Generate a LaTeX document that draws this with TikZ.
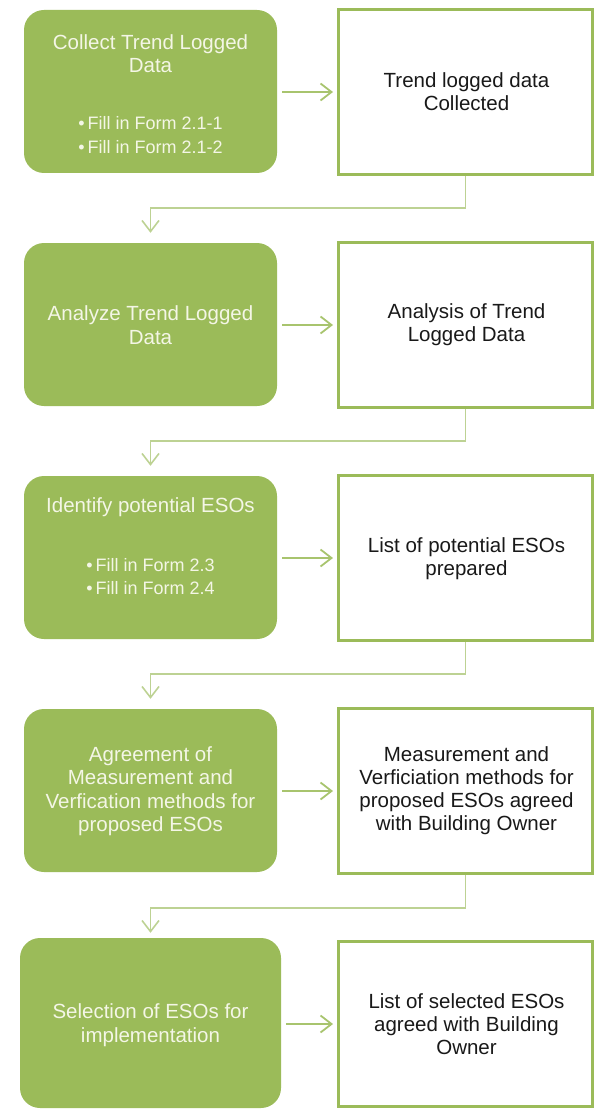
\documentclass[tikz,border=0pt]{standalone}
\usepackage{fontspec}
\setmainfont{Liberation Sans}
\usetikzlibrary{arrows.meta}
\definecolor{ogreen}{HTML}{9BBB59}
\definecolor{oarrow}{HTML}{A8C46E}
\definecolor{oelbow}{HTML}{BDD293}
\definecolor{otext}{HTML}{F4F6E6}
\tikzset{
 stepbox/.style={fill=ogreen, draw=none, rounded corners=20pt, minimum width=253pt, minimum height=163pt, inner sep=0pt},
 resultbox/.style={draw=ogreen, line width=3pt, fill=white, minimum width=254pt, minimum height=165pt, inner sep=0pt},
 steptext/.style={text=otext, align=center, inner sep=0pt, font=\fontsize{20.5}{23.5}\selectfont},
 bullettext/.style={text=otext, align=center, inner sep=0pt, font=\fontsize{18}{23.5}\selectfont},
 resulttext/.style={text=black!90, align=center, inner sep=0pt, font=\fontsize{20.5}{23}\selectfont},
 flow/.style={draw=oarrow, line width=1.8pt, -{Straight Barb[length=11pt,width=17pt]}, shorten <=5pt, shorten >=4pt},
 elbow/.style={draw=oelbow, line width=1.6pt, -{Straight Barb[length=11pt,width=17pt]}},
}
\begin{document}
\begin{tikzpicture}[x=1pt,y=-1pt]
\useasboundingbox (0,0) rectangle (594,1110);
% row 1
\node[stepbox] (g1) at (150.5,91.5) {};
\node[steptext] (g1t) at (150.5,53.5) {Collect Trend Logged\\Data};
\node[bullettext] (g1b) at (150.5,135) {•\,Fill in Form 2.1-1\\•\,Fill in Form 2.1-2};
\node[resultbox] (w1) at (465.5,92) {};
\node[resulttext] (w1t) at (466.5,91.5) {Trend logged data\\Collected};
% row 2
\node[stepbox] (g2) at (150.5,324.5) {};
\node[steptext] (g2t) at (150.5,325) {Analyze Trend Logged\\Data};
\node[resultbox] (w2) at (465.5,325) {};
\node[resulttext] (w2t) at (466.5,324.5) {Analysis of Trend\\Logged Data};
% row 3
\node[stepbox] (g3) at (150.5,557.5) {};
\node[steptext] (g3t) at (150.5,507) {Identify potential ESOs};
\node[bullettext] (g3b) at (150.5,576.5) {•\,Fill in Form 2.3\\•\,Fill in Form 2.4};
\node[resultbox] (w3) at (465.5,558) {};
\node[resulttext] (w3t) at (466.5,559) {List of potential ESOs\\prepared};
% row 4
\node[stepbox] (g4) at (150.5,790.5) {};
\node[steptext] (g4t) at (150.5,791) {Agreement of\\Measurement and\\Verfication methods for\\proposed ESOs};
\node[resultbox] (w4) at (465.5,791) {};
\node[resulttext] (w4t) at (466.5,791) {Measurement and\\Verficiation methods for\\proposed ESOs agreed\\with Building Owner};
% row 5
\node[stepbox, minimum width=261pt, minimum height=170pt] (g5) at (150.5,1023) {};
\node[steptext] (g5t) at (150.5,1025) {Selection of ESOs for\\implementation};
\node[resultbox] (w5) at (465.5,1024) {};
\node[resulttext] (w5t) at (466.5,1024.5) {List of selected ESOs\\agreed with Building\\Owner};
% horizontal arrows
\draw[flow] (g1.east |- w1.west) -- (w1.west);
\draw[flow] (g2.east |- w2.west) -- (w2.west);
\draw[flow] (g3.east |- w3.west) -- (w3.west);
\draw[flow] (g4.east |- w4.west) -- (w4.west);
\draw[flow] (g5.east |- w5.west) -- (w5.west);
% elbow connectors
\coordinate (c1) at (150.5,208);
\coordinate (c2) at (150.5,441);
\coordinate (c3) at (150.5,674);
\coordinate (c4) at (150.5,908);
\draw[elbow, shorten >=10pt] (w1.south) |- (c1) -- (g2.north);
\draw[elbow, shorten >=10pt] (w2.south) |- (c2) -- (g3.north);
\draw[elbow, shorten >=10pt] (w3.south) |- (c3) -- (g4.north);
\draw[elbow, shorten >=5pt] (w4.south) |- (c4) -- (g5.north);
\end{tikzpicture}
\end{document}
